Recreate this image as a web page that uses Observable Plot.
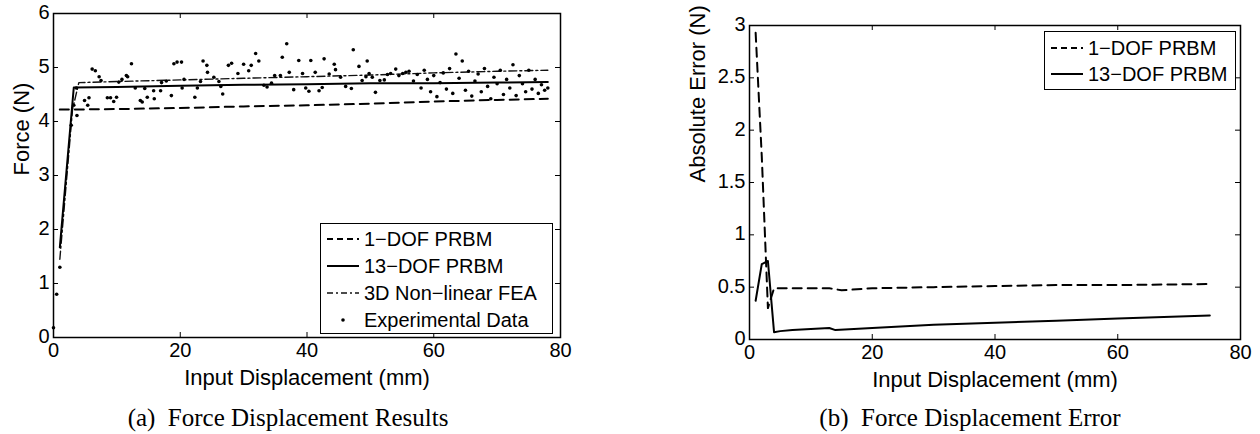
<!DOCTYPE html>
<html>
<head>
<meta charset="utf-8">
<script src="https://cdn.jsdelivr.net/npm/d3@7"></script>
<script src="https://cdn.jsdelivr.net/npm/@observablehq/plot@0.6"></script>
<style>
  html, body { margin: 0; padding: 0; background: #fff; }
  #page { position: relative; width: 1260px; height: 434px; overflow: hidden; background: #fff; font-family: "Liberation Sans", Arial, sans-serif; }
  .chart { position: absolute; top: 0; }
  .caption { position: absolute; font-family: "Liberation Serif", "Times New Roman", serif; font-size: 25px; color: #000; white-space: nowrap; transform: translate(-50%, -50%); }
  .legend { position: absolute; border: 1px solid #000; background: #fff; box-sizing: border-box; }
  .legend .row { position: absolute; left: 0; height: 26px; display: flex; align-items: center; font-size: 20px; white-space: nowrap; color: #000; }
  .legend svg { display: block; margin-left: 6px; margin-right: 5px; }
</style>
</head>
<body>
<div id="page">
  <div id="chartA" class="chart" style="left:0px"></div>
  <div id="chartB" class="chart" style="left:630px"></div>
  <div class="caption" style="left:288px; top:418px">(a)&nbsp; Force Displacement Results</div>
  <div class="caption" style="left:970px; top:418px">(b)&nbsp; Force Displacement Error</div>
  <div id="legendA" class="legend" style="left:320px; top:223px; width:233px; height:111px"></div>
  <div id="legendB" class="legend" style="left:1044px; top:31px; width:192px; height:59px"></div>
</div>
<script>
// ---------- Tick values ----------
const xTicks = [0, 20, 40, 60, 80];
const forceTicks = [0, 1, 2, 3, 4, 5, 6];
const errorTicks = [0, 0.5, 1, 1.5, 2, 2.5, 3];
const errorTickLabels = ["0", "0.5", "1", "1.5", "2", "2.5", "3"];

// ---------- (a) Force vs displacement ----------
const dof1X = [1, 10, 20, 30, 40, 50, 60, 70, 78];
const dof1Y = [4.22, 4.23, 4.25, 4.28, 4.30, 4.33, 4.37, 4.40, 4.42];

const dof13X = [1, 3.2, 10, 20, 30, 40, 50, 60, 70, 78];
const dof13Y = [1.67, 4.63, 4.64, 4.66, 4.68, 4.69, 4.71, 4.71, 4.72, 4.73];

const feaX = [1, 3, 4, 10, 20, 30, 40, 50, 60, 70, 78];
const feaY = [1.45, 4.22, 4.72, 4.74, 4.77, 4.80, 4.83, 4.86, 4.90, 4.93, 4.95];

const expX = [0, 0.5, 1, 2.8, 3.2, 3.6, 3.7, 4.9, 5.4, 5.6, 6.1, 6.6, 7.2, 7.5, 8.5, 9.0, 9.5, 9.95,
  10.3, 10.8, 11.5, 11.7, 12.3, 12.9, 13.7, 14.0, 14.4, 14.8, 15.8, 15.9, 16.9, 17.05, 17.8, 18.6,
  19.0, 19.5, 20.2, 20.3, 20.6, 22.3, 22.7, 23.2, 23.6, 24.2, 24.3, 25.3, 26.1, 26.4, 26.7, 27.6,
  28.1, 29.1, 30.0, 30.8, 31.2, 31.9, 32.4, 33.2, 33.7, 34.4, 34.9, 35.8, 36.1, 36.8, 37.2, 37.9,
  38.7, 39.3, 39.8, 40.3, 40.6, 41.3, 41.9, 42.4, 42.7, 43.5, 44.3, 44.5, 45.3, 46.1, 47.0, 47.3,
  48.2, 48.7, 49.3, 49.5, 49.8, 50.3, 50.8, 51.5, 52.2, 52.7, 53.2, 54.0, 54.5, 55.1, 55.6, 56.1,
  56.8, 57.4, 58.0, 58.5, 59.0, 59.5, 60.0, 60.5, 61.0, 61.5, 62.0, 62.5, 63.0, 63.5, 64.0, 64.5,
  65.0, 65.5, 66.0, 66.5, 67.0, 67.5, 68.0, 68.5, 69.0, 69.5, 70.0, 70.5, 71.0, 71.5, 72.0, 72.5,
  73.0, 73.5, 74.0, 74.5, 75.0, 75.5, 76.0, 76.5, 77.0, 77.5, 78.0];
const expY = [0.18, 0.8, 1.3, 3.93, 4.30, 4.62, 4.11, 4.39, 4.30, 4.44, 4.97, 4.94, 4.83, 4.76, 4.44, 4.44, 4.37, 4.45,
  4.73, 4.78, 4.85, 4.83, 5.07, 4.62, 4.39, 4.36, 4.61, 4.45, 4.57, 4.42, 4.57, 4.72, 4.75, 4.48,
  5.07, 5.10, 5.10, 4.62, 4.78, 4.45, 4.62, 4.74, 5.12, 5.04, 4.91, 4.82, 4.74, 4.65, 4.51, 5.04,
  5.08, 4.89, 5.06, 4.94, 5.04, 5.26, 5.12, 4.67, 4.64, 4.71, 4.85, 4.85, 5.19, 5.44, 4.91, 4.59,
  5.13, 4.89, 4.62, 4.56, 5.13, 4.91, 4.57, 4.63, 5.16, 4.88, 5.06, 4.96, 4.82, 4.65, 4.61, 5.33,
  5.02, 4.76, 4.83, 5.12, 4.89, 4.82, 4.54, 4.76, 4.77, 4.87, 4.89, 4.97, 4.85, 4.89, 4.91, 4.93,
  4.75, 4.87, 4.62, 4.95, 4.78, 4.55, 4.85, 4.46, 4.72, 4.90, 4.60, 4.98, 4.52, 5.25, 4.80, 5.12,
  4.58, 4.93, 4.47, 4.75, 4.88, 4.55, 4.98, 4.65, 4.42, 4.82, 4.70, 4.95, 4.50, 4.78, 4.62, 5.05,
  4.48, 4.85, 4.70, 4.55, 4.95, 4.60, 4.78, 4.52, 4.68, 4.58, 4.62];

// ---------- (b) Absolute error ----------
const err1X = [1, 2, 3, 4, 7, 10, 13, 14, 15, 20, 30, 40, 50, 60, 75];
const err1Y = [2.93, 1.75, 0.30, 0.49, 0.49, 0.49, 0.49, 0.48, 0.47, 0.49, 0.50, 0.51, 0.52, 0.52, 0.53];

const err13X = [1, 2, 3, 4, 5, 7, 10, 13, 14, 20, 30, 40, 50, 60, 75];
const err13Y = [0.37, 0.72, 0.75, 0.07, 0.08, 0.09, 0.10, 0.11, 0.09, 0.11, 0.14, 0.16, 0.18, 0.20, 0.23];

const legendALabels = ["1\u2212DOF PRBM", "13\u2212DOF PRBM", "3D Non\u2212linear FEA", "Experimental Data"];
const legendBLabels = ["1\u2212DOF PRBM", "13\u2212DOF PRBM"];

// ---------- helpers ----------
const zip = (xs, ys) => xs.map((x, i) => ({x, y: ys[i]}));
const FONT = "'Liberation Sans', Arial, Helvetica, sans-serif";
const dashed = {stroke: "#000", strokeWidth: 2, strokeDasharray: "9,6"};
const solid = {stroke: "#000", strokeWidth: 2};
const dashdot = {stroke: "#111", strokeWidth: 1.4, strokeDasharray: "8,3,2,3"};

function boxAxes(xt, yt, ytLabels, W, H, yTitle, yTitleDx) {
  const T = 5;
  return [
    Plot.frame({stroke: "#000", strokeWidth: 1.5}),
    Plot.tickX(xt, {x: d => d, insetTop: H - T, stroke: "#000", strokeWidth: 1}),
    Plot.tickX(xt, {x: d => d, insetBottom: H - T, stroke: "#000", strokeWidth: 1}),
    Plot.tickY(yt, {y: d => d, insetRight: W - T, stroke: "#000", strokeWidth: 1}),
    Plot.tickY(yt, {y: d => d, insetLeft: W - T, stroke: "#000", strokeWidth: 1}),
    Plot.text(xt, {x: d => d, frameAnchor: "bottom", lineAnchor: "top", dy: 5, text: d => String(d), fill: "#000", fontSize: 20}),
    Plot.text(yt, {y: d => d, frameAnchor: "left", textAnchor: "end", dx: -4, dy: -1, text: (d, i) => ytLabels[i], fill: "#000", fontSize: 20}),
    Plot.text(["Input Displacement (mm)"], {frameAnchor: "bottom", lineAnchor: "middle", dy: 40, fill: "#000", fontSize: 22}),
    Plot.text([yTitle], {frameAnchor: "left", rotate: -90, lineAnchor: "middle", dx: yTitleDx, fill: "#000", fontSize: 22})
  ];
}

const style = {fontFamily: FONT, fontSize: "20px", color: "#000", background: "transparent", overflow: "visible"};

// ---------- chart (a) ----------
const WA = 507, HA = 324;
const chartA = Plot.plot({
  width: 630, height: 400,
  marginLeft: 53, marginRight: 630 - 53 - WA, marginTop: 13, marginBottom: 400 - 13 - HA,
  x: {domain: [0, 80], axis: null},
  y: {domain: [0, 6], axis: null},
  style,
  marks: [
    Plot.line(zip(feaX, feaY), {x: "x", y: "y", ...dashdot}),
    Plot.line(zip(dof1X, dof1Y), {x: "x", y: "y", ...dashed}),
    Plot.line(zip(dof13X, dof13Y), {x: "x", y: "y", ...solid}),
    Plot.dot(zip(expX, expY), {x: "x", y: "y", r: 1.8, fill: "#000", stroke: "none"}),
    ...boxAxes(xTicks, forceTicks, forceTicks.map(String), WA, HA, "Force (N)", -32)
  ]
});
document.getElementById("chartA").appendChild(chartA);

// ---------- chart (b) ----------
const WB = 491, HB = 314;
const chartB = Plot.plot({
  width: 630, height: 400,
  marginLeft: 119, marginRight: 630 - 119 - WB, marginTop: 25, marginBottom: 400 - 25 - HB,
  x: {domain: [0, 80], axis: null},
  y: {domain: [0, 3], axis: null},
  style,
  marks: [
    Plot.line(zip(err1X, err1Y), {x: "x", y: "y", ...dashed}),
    Plot.line(zip(err13X, err13Y), {x: "x", y: "y", ...solid}),
    ...boxAxes(xTicks, errorTicks, errorTickLabels, WB, HB, "Absolute Error (N)", -52)
  ]
});
document.getElementById("chartB").appendChild(chartB);

// ---------- legends ----------
function sample(kind) {
  const ns = "http://www.w3.org/2000/svg";
  const svg = document.createElementNS(ns, "svg");
  svg.setAttribute("width", 32); svg.setAttribute("height", 20);
  if (kind === "dot") {
    const c = document.createElementNS(ns, "circle");
    c.setAttribute("cx", 16); c.setAttribute("cy", 10); c.setAttribute("r", 1.8);
    c.setAttribute("fill", "#000");
    svg.appendChild(c);
  } else {
    const l = document.createElementNS(ns, "line");
    l.setAttribute("x1", 0); l.setAttribute("x2", 32); l.setAttribute("y1", 10); l.setAttribute("y2", 10);
    const st = kind === "dashed" ? dashed : kind === "solid" ? solid : dashdot;
    l.setAttribute("stroke", st.stroke);
    l.setAttribute("stroke-width", st.strokeWidth);
    if (st.strokeDasharray) l.setAttribute("stroke-dasharray", kind === "dashed" ? "6,4" : "6,3,2,3");
    svg.appendChild(l);
  }
  return svg;
}
function buildLegend(id, labels, kinds, firstCenter, spacing) {
  const box = document.getElementById(id);
  labels.forEach((lab, i) => {
    const row = document.createElement("div");
    row.className = "row";
    row.style.top = (firstCenter + i * spacing - 13) + "px";
    row.appendChild(sample(kinds[i]));
    const t = document.createElement("span");
    t.textContent = lab;
    row.appendChild(t);
    box.appendChild(row);
  });
}
buildLegend("legendA", legendALabels, ["dashed", "solid", "dashdot", "dot"], 15, 27);
buildLegend("legendB", legendBLabels, ["dashed", "solid"], 16, 26);
</script>
</body>
</html>
